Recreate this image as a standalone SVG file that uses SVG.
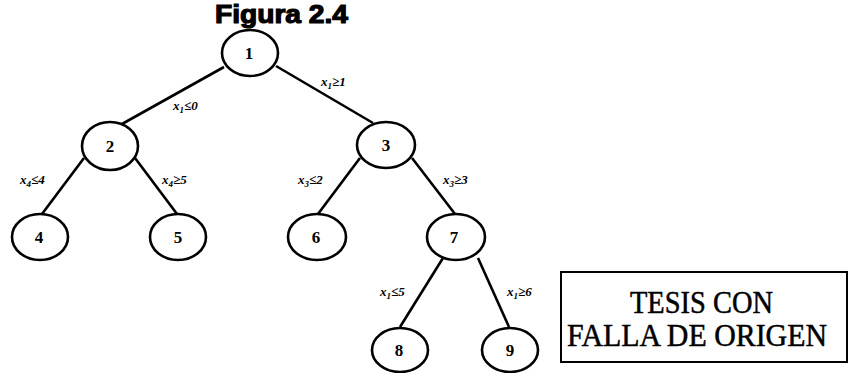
<svg xmlns="http://www.w3.org/2000/svg" width="855" height="373" viewBox="0 0 855 373">
<style>
.node ellipse{fill:#fff;stroke:#000;stroke-width:2.6}
.node text{font-family:"Liberation Serif",serif;font-weight:bold;font-size:17px;text-anchor:middle;fill:#000}
.edge{stroke:#000;stroke-width:2.6;fill:none}
.lbl{font-family:"Liberation Serif",serif;font-style:italic;font-weight:bold;font-size:13px;fill:#000}
.sub{font-size:9px}
.title{font-family:"Liberation Sans",Arial,sans-serif;font-weight:bold;font-size:26px;fill:#000;stroke:#000;stroke-width:1.2}
.stamp{font-family:"Liberation Serif",serif;font-size:31px;fill:#000;stroke:#000;stroke-width:0.5}
</style>
<rect width="855" height="373" fill="#fff"/>
<text class="title" x="215" y="23" textLength="133" lengthAdjust="spacingAndGlyphs">Figura 2.4</text>
<g id="connectors">
<line class="edge" x1="224" y1="67" x2="122" y2="124"/>
<line class="edge" x1="276" y1="66" x2="373" y2="123"/>
<line class="edge" x1="84" y1="158" x2="42" y2="214"/>
<line class="edge" x1="135" y1="158" x2="177" y2="214"/>
<line class="edge" x1="360" y1="158" x2="318" y2="214"/>
<line class="edge" x1="412" y1="158" x2="455" y2="214"/>
<line class="edge" x1="443" y1="258" x2="400" y2="327"/>
<line class="edge" x1="478" y1="258" x2="509" y2="327"/>
<text class="lbl" x="173" y="110">x<tspan class="sub" dy="3">1</tspan><tspan dy="-3">≤0</tspan></text>
<text class="lbl" x="321" y="86">x<tspan class="sub" dy="3">1</tspan><tspan dy="-3">≥1</tspan></text>
<text class="lbl" x="20" y="184">x<tspan class="sub" dy="3">4</tspan><tspan dy="-3">≤4</tspan></text>
<text class="lbl" x="162" y="184">x<tspan class="sub" dy="3">4</tspan><tspan dy="-3">≥5</tspan></text>
<text class="lbl" x="298" y="184">x<tspan class="sub" dy="3">3</tspan><tspan dy="-3">≤2</tspan></text>
<text class="lbl" x="443" y="184">x<tspan class="sub" dy="3">3</tspan><tspan dy="-3">≥3</tspan></text>
<text class="lbl" x="380" y="296">x<tspan class="sub" dy="3">1</tspan><tspan dy="-3">≤5</tspan></text>
<text class="lbl" x="507" y="296">x<tspan class="sub" dy="3">1</tspan><tspan dy="-3">≥6</tspan></text>
</g>
<g id="n1" class="node"><ellipse cx="250" cy="53" rx="28" ry="23"/><text x="249" y="59">1</text></g>
<g id="n2" class="node"><ellipse cx="110" cy="146" rx="28" ry="24"/><text x="110" y="152">2</text></g>
<g id="n3" class="node"><ellipse cx="386" cy="145" rx="29" ry="23"/><text x="386" y="151">3</text></g>
<g id="n4" class="node"><ellipse cx="40" cy="237" rx="28" ry="23"/><text x="39" y="243">4</text></g>
<g id="n5" class="node"><ellipse cx="178" cy="237" rx="28" ry="23"/><text x="178" y="243">5</text></g>
<g id="n6" class="node"><ellipse cx="317" cy="237" rx="29" ry="23"/><text x="316" y="243">6</text></g>
<g id="n7" class="node"><ellipse cx="456" cy="237" rx="29" ry="23"/><text x="454" y="243">7</text></g>
<g id="n8" class="node"><ellipse cx="400" cy="350" rx="28" ry="22"/><text x="399" y="356">8</text></g>
<g id="n9" class="node"><ellipse cx="510" cy="350" rx="28" ry="22"/><text x="510" y="356">9</text></g>
<g id="stamp">
<rect x="561" y="272" width="286" height="90" fill="none" stroke="#000" stroke-width="2"/>
<text class="stamp" x="630" y="313" textLength="143" lengthAdjust="spacingAndGlyphs">TESIS CON</text>
<text class="stamp" x="567" y="346" textLength="260" lengthAdjust="spacingAndGlyphs">FALLA DE ORIGEN</text>
</g>
</svg>
